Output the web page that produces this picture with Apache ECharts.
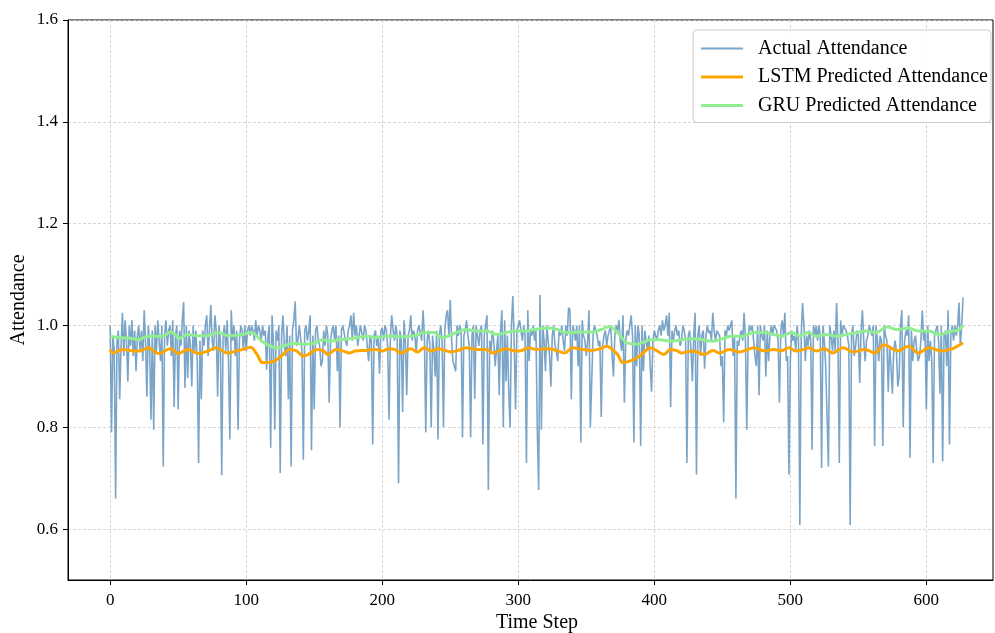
<!DOCTYPE html>
<html>
<head>
<meta charset="utf-8">
<script src="https://cdn.jsdelivr.net/npm/echarts@6/dist/echarts.min.js"></script>
<style>html,body{margin:0;padding:0;background:#fff;}#c{width:995px;height:633px;}</style>
</head>
<body>
<div id="c"></div>
<script>
// Actual attendance, one value per time step (0..627)
const actual = [
1.00,0.79,0.98,0.95,0.66,0.97,0.99,0.855,0.96,1.025,
0.94,1.01,0.97,0.89,1.00,0.96,1.01,0.94,0.99,0.91,
0.98,1.00,0.95,0.99,0.93,1.03,0.97,0.86,1.00,0.96,
0.815,0.99,0.795,1.00,0.95,1.01,0.97,0.93,1.00,0.723,
0.98,1.01,0.96,0.99,1.00,0.94,1.01,0.84,0.98,1.00,
0.835,0.99,0.96,1.01,1.046,0.877,1.00,0.897,0.99,0.96,
0.88,1.00,0.95,0.99,0.93,0.73,0.97,0.855,0.99,0.96,
1.00,1.02,0.94,0.99,1.04,0.97,0.95,1.02,0.99,0.86,
1.00,0.97,0.706,0.98,1.00,0.95,1.01,0.93,0.776,1.03,
0.97,1.00,0.94,0.99,0.795,0.97,1.00,0.99,0.95,1.00,
0.95,0.99,1.00,0.98,1.00,0.99,0.97,1.01,0.98,1.00,
0.99,0.97,1.00,0.98,0.99,0.913,0.98,1.00,0.76,1.02,
0.97,0.795,0.99,0.97,1.00,0.71,0.98,1.02,0.96,0.94,
1.00,0.855,0.98,0.723,0.99,1.01,1.047,0.96,0.97,1.00,
1.00,0.95,0.736,0.99,1.00,0.97,0.99,1.02,0.755,0.98,
0.835,0.99,1.00,0.97,0.96,0.92,0.93,0.99,0.96,1.00,
0.98,0.848,0.97,0.99,1.00,0.97,1.00,0.91,0.98,0.80,
0.99,1.00,1.00,0.97,0.96,0.99,1.00,1.02,0.97,1.025,
0.98,1.00,0.96,0.98,1.00,1.00,0.97,1.00,0.99,0.96,
0.93,0.98,0.97,0.766,0.98,0.99,0.96,0.98,0.905,0.99,
0.995,0.97,1.00,0.99,0.96,0.815,0.98,1.02,0.99,0.97,
1.00,0.98,0.69,0.99,0.97,0.83,1.01,0.97,0.863,0.98,
0.99,1.02,0.97,0.99,0.98,0.946,0.99,1.00,1.00,0.97,
1.03,0.98,0.79,0.97,0.99,0.96,0.80,0.98,0.95,0.90,
0.99,0.776,0.98,1.00,0.97,0.80,0.99,1.02,1.03,0.98,
1.05,0.97,0.93,0.92,0.91,1.00,0.98,1.00,0.99,0.78,
0.98,0.99,1.01,0.98,0.96,0.78,0.98,1.00,0.856,1.00,
1.00,0.96,0.99,1.00,0.766,0.98,1.00,1.02,0.677,0.97,
0.95,0.99,0.97,0.92,0.95,0.98,0.863,0.99,1.03,0.80,
1.01,0.89,0.98,0.87,0.80,1.00,1.058,0.97,0.835,0.99,
1.00,1.01,1.01,0.97,1.00,0.98,0.73,1.03,0.93,0.99,
0.98,1.00,0.97,0.99,0.795,0.677,1.06,0.795,1.00,0.97,
0.91,1.00,1.00,0.94,0.88,0.98,1.00,0.96,0.95,0.93,
0.99,0.98,1.00,0.97,0.95,1.00,0.98,1.035,1.03,0.855,
1.00,0.99,0.97,1.00,0.92,1.00,0.77,1.01,0.98,0.97,
0.94,0.97,1.03,0.80,0.80,0.98,1.00,1.00,0.98,0.96,
0.97,0.82,0.96,0.98,0.99,0.96,0.98,0.98,1.00,0.94,
0.90,0.98,1.00,0.99,1.01,0.97,0.95,1.02,0.848,0.97,
0.99,0.98,1.00,1.02,0.98,0.77,1.00,0.92,1.00,0.98,
0.763,1.00,0.91,0.99,0.97,0.95,0.98,0.92,0.87,0.97,
0.99,0.98,0.97,0.99,1.00,0.98,1.01,0.99,1.00,1.02,
0.98,1.025,0.84,0.99,0.97,0.99,1.00,0.98,0.99,0.96,
0.97,1.00,0.99,0.97,0.73,0.98,0.99,0.95,0.89,0.98,
1.025,0.707,0.98,1.00,0.94,0.98,0.99,0.915,0.98,1.00,
0.985,0.99,0.97,1.025,0.99,0.97,0.99,0.99,0.98,0.92,
0.94,0.81,0.99,0.98,1.00,0.99,1.00,1.01,0.94,0.98,
0.66,0.97,0.96,0.98,0.99,0.97,1.025,0.97,0.795,0.98,
1.00,0.99,1.00,0.97,0.94,0.92,1.00,0.863,1.00,0.98,
0.97,1.00,0.90,0.99,0.93,0.98,1.00,0.98,1.00,1.00,
0.99,0.97,0.848,0.99,1.01,0.98,1.025,0.93,0.94,0.707,
0.93,0.99,0.97,0.98,0.95,1.00,0.97,0.608,0.98,1.044,
1.00,0.93,0.98,0.96,0.99,0.97,0.756,1.00,0.98,1.00,
0.97,1.00,0.98,0.72,1.00,0.97,0.92,0.92,0.723,1.00,
0.98,0.95,0.99,0.95,1.044,0.97,0.73,1.01,0.98,1.00,
1.00,0.99,0.98,0.96,0.608,0.98,1.00,0.94,0.96,0.99,
0.98,0.887,0.99,1.03,0.97,0.93,0.97,0.98,1.00,0.99,
0.98,1.00,0.763,1.00,0.97,0.93,0.98,0.97,0.763,1.00,
0.98,0.97,0.87,0.96,0.92,0.866,0.95,0.97,0.95,0.88,
0.90,1.00,1.03,0.80,0.97,0.99,0.98,1.02,0.74,0.99,
0.93,0.97,0.98,0.95,0.93,0.94,0.97,1.03,0.97,0.99,
0.835,1.00,0.93,0.97,0.93,0.73,0.98,0.99,1.00,0.97,
0.866,1.00,0.733,0.98,0.99,0.92,1.03,0.766,0.98,1.00,
0.97,1.00,0.98,1.00,1.045,0.96,1.00,1.055
];

// LSTM predicted attendance: time steps and values
const lstmT = [0,2,9,17,22,28,34,36,44,49,50,57,65,72,78,86,93,99,103,108,112,118,123,127,132,137,142,147,152,157,160,166,171,176,180,188,195,200,205,209,214,221,226,231,236,241,246,251,255,262,269,277,281,286,291,296,301,308,313,322,329,334,340,347,353,360,365,369,373,377,382,387,392,397,402,407,412,417,420,428,437,443,448,455,462,470,473,481,488,493,499,504,510,514,519,525,531,539,546,555,562,569,576,579,587,594,602,611,619,624,627];
const lstmV = [0.953,0.946,0.953,0.950,0.950,0.956,0.946,0.945,0.954,0.946,0.945,0.953,0.945,0.950,0.956,0.946,0.950,0.954,0.957,0.943,0.927,0.928,0.934,0.943,0.953,0.950,0.940,0.945,0.953,0.950,0.943,0.953,0.950,0.946,0.950,0.951,0.953,0.950,0.954,0.953,0.946,0.954,0.948,0.956,0.950,0.954,0.951,0.948,0.950,0.956,0.953,0.953,0.946,0.950,0.954,0.951,0.950,0.956,0.953,0.954,0.950,0.946,0.956,0.953,0.951,0.954,0.959,0.953,0.943,0.927,0.930,0.936,0.946,0.956,0.950,0.943,0.953,0.950,0.946,0.950,0.943,0.951,0.946,0.953,0.948,0.954,0.956,0.950,0.953,0.950,0.956,0.950,0.953,0.956,0.950,0.954,0.946,0.956,0.948,0.953,0.946,0.962,0.953,0.950,0.959,0.946,0.956,0.950,0.954,0.961,0.966];

// GRU predicted attendance: time steps and values
const gruT = [0,2,9,17,22,24,29,34,39,44,49,50,57,65,72,79,87,97,103,113,123,127,135,142,150,156,161,168,176,183,190,195,203,209,216,224,231,238,244,251,258,262,269,277,284,291,299,306,311,315,322,329,334,339,347,354,361,367,373,380,387,392,397,404,412,420,428,435,443,450,457,465,473,481,488,494,501,507,513,519,526,534,541,549,556,563,571,579,587,594,602,609,616,624,627];
const gruV = [0.979,0.978,0.976,0.974,0.972,0.976,0.979,0.979,0.979,0.987,0.979,0.974,0.982,0.980,0.980,0.986,0.980,0.982,0.986,0.966,0.956,0.959,0.965,0.963,0.965,0.972,0.969,0.972,0.974,0.977,0.979,0.976,0.979,0.979,0.978,0.980,0.986,0.986,0.976,0.982,0.990,0.992,0.989,0.989,0.982,0.986,0.989,0.989,0.992,0.993,0.995,0.992,0.986,0.986,0.987,0.987,0.992,0.998,0.986,0.966,0.963,0.967,0.972,0.972,0.969,0.972,0.974,0.972,0.969,0.974,0.979,0.979,0.986,0.986,0.982,0.979,0.986,0.979,0.986,0.979,0.982,0.979,0.982,0.986,0.989,0.986,0.997,0.992,0.995,0.989,0.989,0.982,0.987,0.992,1.000];

const xTicks = [0,100,200,300,400,500,600];
const yTicks = [0.6,0.8,1.0,1.2,1.4,1.6];

const chart = echarts.init(document.getElementById('c'), null, {renderer:'canvas'});
const FONT = 'Liberation Serif';
const gridLine = {show:true, lineStyle:{color:'#cccccc', width:0.8, type:[3,2]}};
chart.setOption({
  animation:false,
  backgroundColor:'#ffffff',
  grid:{left:68, right:2, top:20, bottom:53, show:true, borderColor:'#000', borderWidth:1, backgroundColor:'transparent', containLabel:false, outerBoundsMode:'none'},
  xAxis:{
    type:'value', min:-31, max:649,
    name:'Time Step', nameLocation:'middle', nameGap:33, nameMoveOverlap:false,
    nameTextStyle:{fontFamily:FONT, fontSize:20, color:'#000', padding:[0,0,0,13]},
    axisLine:{show:true, onZero:false, lineStyle:{color:'#000', width:1}},
    axisTick:{show:true, inside:false, length:5, customValues:xTicks, lineStyle:{color:'#000'}},
    axisLabel:{customValues:xTicks, fontFamily:FONT, fontSize:17, color:'#000', margin:12},
    splitLine:gridLine
  },
  yAxis:{
    type:'value', min:0.5, max:1.6,
    name:'Attendance', nameLocation:'middle', nameGap:39, nameRotate:90, nameMoveOverlap:false,
    nameTextStyle:{fontFamily:FONT, fontSize:20, color:'#000'},
    axisLine:{show:true, onZero:false, lineStyle:{color:'#000', width:1}},
    axisTick:{show:true, inside:false, length:5, customValues:yTicks, lineStyle:{color:'#000'}},
    axisLabel:{customValues:yTicks, fontFamily:FONT, fontSize:17, color:'#000', margin:10, formatter:v=>v.toFixed(1)},
    splitLine:gridLine
  },
  legend:{
    orient:'vertical', right:4, top:30,
    backgroundColor:'rgba(255,255,255,0.85)', borderColor:'#cccccc', borderWidth:1, borderRadius:4,
    padding:[8.5,3,7,8], itemGap:8.5, itemWidth:42, itemHeight:20, symbolKeepAspect:true,
    textStyle:{fontFamily:FONT, fontSize:20, color:'#000', padding:[0,0,0,10]},
    data:[
      {name:'Actual Attendance', icon:'path://M0,0H42V2H0Z'},
      {name:'LSTM Predicted Attendance', icon:'path://M0,0H42V3H0Z'},
      {name:'GRU Predicted Attendance', icon:'path://M0,0H42V3H0Z'}
    ]
  },
  series:[
    {name:'Actual Attendance', type:'line', symbol:'none', data:actual.map((v,i)=>[i,v]),
     lineStyle:{color:'#4682b4', width:1.6, opacity:0.72}, itemStyle:{color:'#7ba6cc'}, z:2},
    {name:'LSTM Predicted Attendance', type:'line', symbol:'none', smooth:0.4, data:lstmT.map((t,i)=>[t,lstmV[i]]),
     lineStyle:{color:'#ffa500', width:3}, itemStyle:{color:'#ffa500'}, z:3},
    {name:'GRU Predicted Attendance', type:'line', symbol:'none', smooth:0.4, data:gruT.map((t,i)=>[t,gruV[i]]),
     lineStyle:{color:'#90ee90', width:3}, itemStyle:{color:'#90ee90'}, z:4}
  ]
});
</script>
</body>
</html>
